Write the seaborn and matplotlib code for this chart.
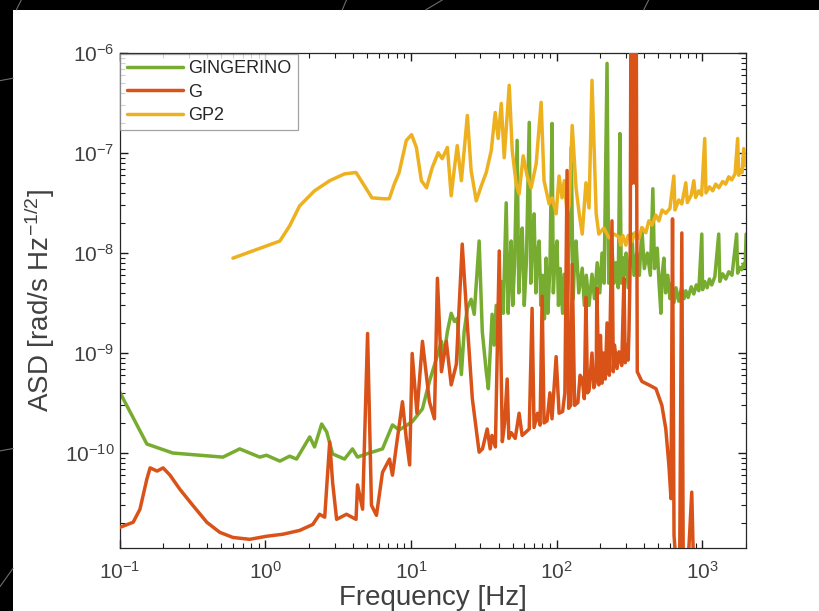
import matplotlib
matplotlib.use("Agg")
import matplotlib.pyplot as plt
from matplotlib.lines import Line2D
from matplotlib.patches import Rectangle
from matplotlib.ticker import LogLocator
import pandas as pd
import seaborn as sns

# GINGERINO
ging_freq = [0.1, 0.154, 0.232, 0.512, 0.668, 0.916, 1.02, 1.26, 1.47, 1.64,
             2.02, 2.18, 2.44, 2.64, 2.90, 3.5, 3.97, 4.3, 4.96, 6.38,
             7.13, 7.47, 8.3, 10.2, 12.0, 13.4, 14.96, 16.2, 16.9, 17.8,
             18.9, 19.9, 20.8, 22.2, 23.2, 24.4, 25.9, 27.2, 29.4, 30.9,
             32.9, 34.0, 36.1, 37.3, 38.5, 40, 41.7, 43, 45.1, 46.5,
             47.5, 48.8, 50, 51.5, 53.6, 55, 56.5, 58.1, 60, 62,
             64.9, 66.5, 68, 70.1, 72, 74, 75.9, 78, 80, 82.5,
             84.8, 87, 90, 93.1, 95, 97.5, 100.7, 103, 106, 110,
             113, 117, 120, 126, 130, 133, 136, 142, 150, 155,
             160, 167, 175, 182, 190, 198, 205, 212, 222, 228,
             235, 240, 248, 255, 265, 272, 278, 285, 292, 300,
             310, 320, 329, 340, 355, 370, 385, 400, 420, 440,
             458, 470, 480, 491, 505, 520, 530, 545, 560, 580,
             600, 618, 640, 660, 690, 720, 750, 771, 800, 840,
             875, 910, 947, 993, 1005, 1040, 1080, 1120, 1161, 1220,
             1297, 1320, 1380, 1450, 1520, 1600, 1722, 1750, 1800, 1860,
             1924, 1970, 2000]
ging_asd = [4.1e-10, 1.23e-10, 1.0e-10, 9.1e-11, 1.1e-10, 9.1e-11, 9.5e-11, 8.3e-11, 9.3e-11, 8.7e-11,
            1.45e-10, 1.15e-10, 1.95e-10, 1.63e-10, 9.8e-11, 8.7e-11, 1.1e-10, 9.1e-11, 9.8e-11, 1.1e-10,
            1.63e-10, 1.91e-10, 1.7e-10, 2.05e-10, 2.77e-10, 5.2e-10, 8.8e-10, 1.31e-9, 9.7e-10, 1.64e-9,
            2.5e-9, 2.07e-9, 2.22e-9, 6.1e-10, 1.64e-9, 2.8e-9, 3.45e-9, 2.44e-9, 1.32e-8, 1.64e-9,
            6.5e-10, 4.4e-10, 2.44e-9, 1.2e-9, 3.0e-9, 1.5e-9, 5.2e-9, 2.5e-9, 3.18e-8, 2.5e-9,
            6.0e-9, 1.32e-8, 3.0e-9, 8.0e-9, 1.34e-7, 4.0e-9, 1.0e-8, 1.78e-8, 3.0e-9, 8.0e-9,
            2.03e-7, 5.0e-9, 1.2e-8, 2.47e-8, 4.0e-9, 1.0e-8, 1.32e-8, 3.0e-9, 6.0e-9, 2.2e-9,
            8.9e-9, 2.5e-9, 7.0e-9, 1.98e-7, 4.0e-9, 9.0e-9, 1.32e-8, 3.0e-9, 7.0e-9, 2.5e-9,
            6.15e-9, 2.5e-9, 5.0e-9, 1.14e-7, 3.5e-9, 9.0e-9, 1.32e-8, 4.0e-9, 7.06e-9, 3.0e-9,
            6.0e-9, 3.0e-9, 6.15e-9, 3.5e-9, 8.0e-9, 4.0e-9, 1.0e-8, 5.0e-9, 7.9e-7, 5.0e-9,
            9.0e-9, 1.12e-8, 5.0e-9, 8.0e-9, 4.5e-9, 1.57e-7, 5.0e-9, 9.0e-9, 6.0e-9, 1.0e-8,
            4.5e-9, 9.0e-9, 1.55e-8, 6.0e-9, 1.0e-8, 6.0e-9, 1.78e-8, 7.0e-9, 1.0e-8, 6.0e-9,
            4.4e-8, 7.0e-9, 1.0e-8, 1.12e-8, 5.0e-9, 2.5e-9, 6.0e-9, 8.9e-9, 4.0e-9, 6.0e-9,
            3.5e-9, 5.0e-9, 3.2e-9, 4.5e-9, 3.3e-9, 4.5e-9, 3.5e-9, 4.2e-9, 3.6e-9, 4.6e-9,
            3.9e-9, 4.8e-9, 4.2e-9, 1.55e-8, 4.3e-9, 5.2e-9, 4.5e-9, 5.5e-9, 4.8e-9, 5.8e-9,
            1.55e-8, 5.2e-9, 6.2e-9, 5.5e-9, 6.5e-9, 6.0e-9, 1.55e-8, 6.3e-9, 7.2e-9, 6.8e-9,
            7.8e-9, 7.2e-9, 1.55e-8]

# G
g_freq = [0.1, 0.124, 0.138, 0.154, 0.162, 0.181, 0.199, 0.222, 0.259, 0.318,
          0.397, 0.487, 0.60, 0.783, 1.02, 1.32, 1.72, 2.12, 2.36, 2.56,
          2.77, 2.90, 3.09, 3.61, 4.2, 4.3, 4.66, 5.04, 5.36, 5.8,
          6.38, 7.13, 7.47, 7.96, 8.75, 9.3, 9.8, 10.2, 11, 12.0,
          13.4, 14.5, 15.2, 16.2, 17.5, 18.9, 20.5, 22.5, 24.4, 26.4,
          29.4, 31, 33.4, 35, 36, 38, 40.4, 42.4, 44, 45.8,
          47, 48.8, 52, 55.3, 58, 61, 64.9, 67.9, 70, 74,
          77, 79.6, 82, 86, 90, 93, 99.3, 104, 110, 114,
          118, 121, 125, 128, 133, 140, 145, 150, 155, 159,
          163, 167, 175, 180, 187, 189, 195, 200, 205, 210,
          216, 222, 230, 240, 245, 250, 260, 268, 280, 290,
          296, 304, 310, 314, 320, 324, 330, 333, 338, 343,
          347, 352, 358, 385, 430, 481, 528, 562, 590, 610,
          625, 640, 660, 700, 724, 740, 800, 847, 870]
g_asd = [1.8e-11, 2.03e-11, 2.74e-11, 5.5e-11, 7.1e-11, 6.6e-11, 7.1e-11, 6.0e-11, 4.35e-11, 3.0e-11,
         2.03e-11, 1.61e-11, 1.43e-11, 1.37e-11, 1.47e-11, 1.54e-11, 1.68e-11, 1.93e-11, 2.44e-11, 2.28e-11,
         1.29e-10, 5.1e-11, 2.17e-11, 2.44e-11, 2.17e-11, 4.8e-11, 2.74e-11, 1.57e-9, 3.0e-11, 2.38e-11,
         6.4e-11, 8.7e-11, 6.0e-11, 1.2e-10, 3.26e-10, 1.38e-10, 7.6e-11, 9.9e-10, 2.5e-10, 1.31e-9,
         3.26e-10, 2.2e-10, 5.6e-9, 6.5e-10, 1.31e-9, 4.8e-10, 7.7e-10, 1.23e-8, 1.93e-9, 3.5e-10,
         1.02e-10, 1.1e-10, 1.74e-10, 1.1e-10, 1.5e-10, 1.15e-10, 1.05e-8, 1.3e-10, 2.0e-10, 5.5e-10,
         1.4e-10, 1.6e-10, 1.4e-10, 2.5e-10, 1.5e-10, 1.6e-10, 1.74e-10, 2.8e-9, 1.8e-10, 2.5e-10,
         1.9e-10, 3.7e-9, 2.0e-10, 2.1e-10, 4.0e-10, 2.2e-10, 9.2e-10, 2.5e-10, 2.6e-10, 4.0e-10,
         6.7e-8, 2.8e-10, 3.0e-10, 7.7e-9, 3.0e-10, 3.2e-10, 6.0e-10, 5.5e-10, 3.5e-10, 3.6e-9,
         4.0e-10, 4.2e-10, 1.0e-9, 4.5e-10, 5.5e-10, 4.45e-9, 4.8e-10, 1.5e-9, 5.0e-10, 1.0e-9,
         5.5e-10, 2.0e-9, 6.0e-10, 2.1e-8, 6.5e-10, 1.2e-9, 7.0e-10, 1.03e-9, 7.5e-10, 5.6e-9,
         8.0e-10, 1.2e-9, 8.5e-10, 1.64e-9, 7.7e-9, 3e-6, 5e-8, 3e-6, 6.3e-7, 3e-6,
         5e-8, 3e-6, 6.5e-10, 5.2e-10, 4.8e-10, 4.4e-10, 3.0e-10, 1.74e-10, 7.6e-11, 3.5e-11,
         2.2e-8, 1.5e-11, 8e-12, 9e-12, 1.59e-8, 8e-12, 8e-12, 4.06e-11, 8e-12]

# GP2
gp2_freq = [0.60, 1.26, 1.47, 1.72, 2.18, 2.77, 3.5, 4.2, 4.8, 5.4,
            6.6, 7.1, 7.7, 8.3, 9.3, 10.1, 10.9, 11.8, 12.8, 14.0,
            15.4, 16.4, 17.8, 18.9, 19.9, 20.8, 22.2, 23.2, 24.4, 25.9,
            28.1, 30.4, 32.9, 35.6, 37.9, 39.7, 41.7, 43.7, 47.3, 49.6,
            52.8, 55.3, 59.0, 62.8, 66.9, 72.4, 78.3, 82.0, 88.9, 93.1,
            99.3, 104, 109, 113, 118, 122, 128, 136, 143, 150,
            159, 167, 175, 187, 195, 211, 229, 248, 268, 275,
            285, 299, 310, 329, 345, 367, 385, 410, 430, 451,
            480, 504, 530, 562, 600, 638, 650, 690, 724, 771,
            790, 840, 875, 900, 947, 990, 1040, 1060, 1120, 1180,
            1237, 1300, 1380, 1448, 1520, 1592, 1680, 1750, 1780, 1836,
            1880, 1924, 1960, 2000]
gp2_asd = [8.9e-9, 1.32e-8, 1.87e-8, 2.96e-8, 4.2e-8, 5.3e-8, 6.2e-8, 6.4e-8, 4.7e-8, 3.57e-8,
           3.49e-8, 3.5e-8, 4.93e-8, 6.4e-8, 1.34e-7, 1.53e-7, 1.14e-7, 5.3e-8, 4.5e-8, 7.15e-8,
           1.01e-7, 8.8e-8, 1.14e-7, 3.74e-8, 7.15e-8, 1.19e-7, 5.3e-8, 1.06e-7, 2.38e-7, 6.7e-8,
           3.33e-8, 4.7e-8, 6.4e-8, 1.06e-7, 2.55e-7, 1.40e-7, 3.14e-7, 9.0e-8, 4.77e-7, 1.06e-7,
           4.93e-8, 3.92e-8, 9.4e-8, 5.9e-8, 4.5e-8, 7.8e-8, 3.22e-7, 5.3e-8, 3.1e-8, 3.57e-8,
           2.47e-8, 5.9e-8, 3.57e-8, 5.3e-8, 2.47e-8, 3.0e-8, 1.89e-7, 4.5e-8, 2.47e-8, 1.55e-8,
           5.05e-8, 2.83e-8, 5.35e-7, 2.47e-8, 1.55e-8, 1.78e-8, 1.42e-8, 1.55e-8, 1.45e-8, 1.2e-8,
           1.5e-8, 1.2e-8, 1.5e-8, 1.3e-8, 1.6e-8, 1.4e-8, 1.8e-8, 1.6e-8, 2.1e-8, 1.9e-8,
           2.4e-8, 2.1e-8, 2.7e-8, 2.5e-8, 2.8e-8, 5.9e-8, 2.7e-8, 3.4e-8, 3.1e-8, 5.05e-8,
           3.2e-8, 3.8e-8, 5.3e-8, 3.6e-8, 4.2e-8, 3.8e-8, 1.4e-7, 4.0e-8, 4.6e-8, 4.2e-8,
           4.9e-8, 4.5e-8, 5.2e-8, 4.9e-8, 5.8e-8, 5.4e-8, 6.2e-8, 1.4e-7, 6.0e-8, 6.8e-8,
           6.4e-8, 1.11e-7, 7.5e-8, 9.0e-8]

GREEN = "#77AC30"
RED = "#D95319"
YELLOW = "#EDB120"
TEXT = "#404040"

sns.set_theme(style="ticks")
plt.rcParams['font.family'] = ['Liberation Sans', 'DejaVu Sans']
plt.rcParams['mathtext.default'] = 'regular'
plt.rcParams['axes.unicode_minus'] = False

fig = plt.figure(figsize=(8.19, 6.11), dpi=100, facecolor="black")
# white slide panel on black background
panel = Rectangle((13 / 819, 0), 1, 1 - 10 / 611, transform=fig.transFigure,
                  facecolor="white", edgecolor="none", zorder=-10)
fig.patches.append(panel)
for (x0, y0, x1, y1) in [(0.026, 1.0, 0.020, 0.984), (0.423, 1.0, 0.418, 0.984),
                         (0.540, 1.0, 0.520, 0.984), (0.792, 1.0, 0.786, 0.984),
                         (0.0, 0.868, 0.016, 0.872), (0.0, 0.262, 0.016, 0.266),
                         (0.0, 0.040, 0.016, 0.070)]:
    fig.add_artist(Line2D([x0, x1], [y0, y1], transform=fig.transFigure,
                          color="#6e6e6e", lw=0.8, zorder=-5))

ax = fig.add_axes([0.146, 0.103, 0.765, 0.810])
ax.set_zorder(5)

df_ging = pd.DataFrame({"freq": ging_freq, "asd": ging_asd})
df_g = pd.DataFrame({"freq": g_freq, "asd": g_asd})
df_gp2 = pd.DataFrame({"freq": gp2_freq, "asd": gp2_asd})

sns.lineplot(data=df_ging, x="freq", y="asd", ax=ax, color=GREEN, lw=2.5,
             label="GINGERINO", estimator=None, sort=False, zorder=2)
sns.lineplot(data=df_g, x="freq", y="asd", ax=ax, color=RED, lw=2.5,
             label="G", estimator=None, sort=False, zorder=4)
sns.lineplot(data=df_gp2, x="freq", y="asd", ax=ax, color=YELLOW, lw=2.5,
             label="GP2", estimator=None, sort=False, zorder=3)

ax.set_xscale("log")
ax.set_yscale("log")
ax.set_xlim(0.1, 2000)
ax.set_ylim(1.12e-11, 1e-6)
for axis in (ax.xaxis, ax.yaxis):
    axis.set_minor_locator(LogLocator(base=10, subs=(2, 3, 4, 5, 6, 7, 8, 9), numticks=30))

ax.tick_params(which="both", direction="in", bottom=True, left=True, top=True, right=True,
               color="#1a1a1a", labelcolor=TEXT, labelsize=15)
ax.tick_params(which="major", length=6, width=1.0)
ax.tick_params(which="minor", length=3.5, width=0.8)
ax.tick_params(axis="x", which="major", pad=9)
for sp in ax.spines.values():
    sp.set_visible(True)
    sp.set_color("#262626")
    sp.set_linewidth(0.9)

ax.set_xlabel("Frequency [Hz]", fontsize=20, color=TEXT, labelpad=2)
ax.set_ylabel("ASD [rad/s Hz$^{-1/2}$]", fontsize=20, color=TEXT, labelpad=6)

leg = ax.legend(loc="upper left", frameon=True, fancybox=False, fontsize=13,
                handlelength=3.1, handletextpad=0.3, labelspacing=0.35,
                borderpad=0.35, borderaxespad=0.05, edgecolor="#8c8c8c")
leg.get_frame().set_linewidth(0.9)
for t in leg.get_texts():
    t.set_color("#262626")

fig.savefig("out.png", dpi=100, facecolor=fig.get_facecolor())
